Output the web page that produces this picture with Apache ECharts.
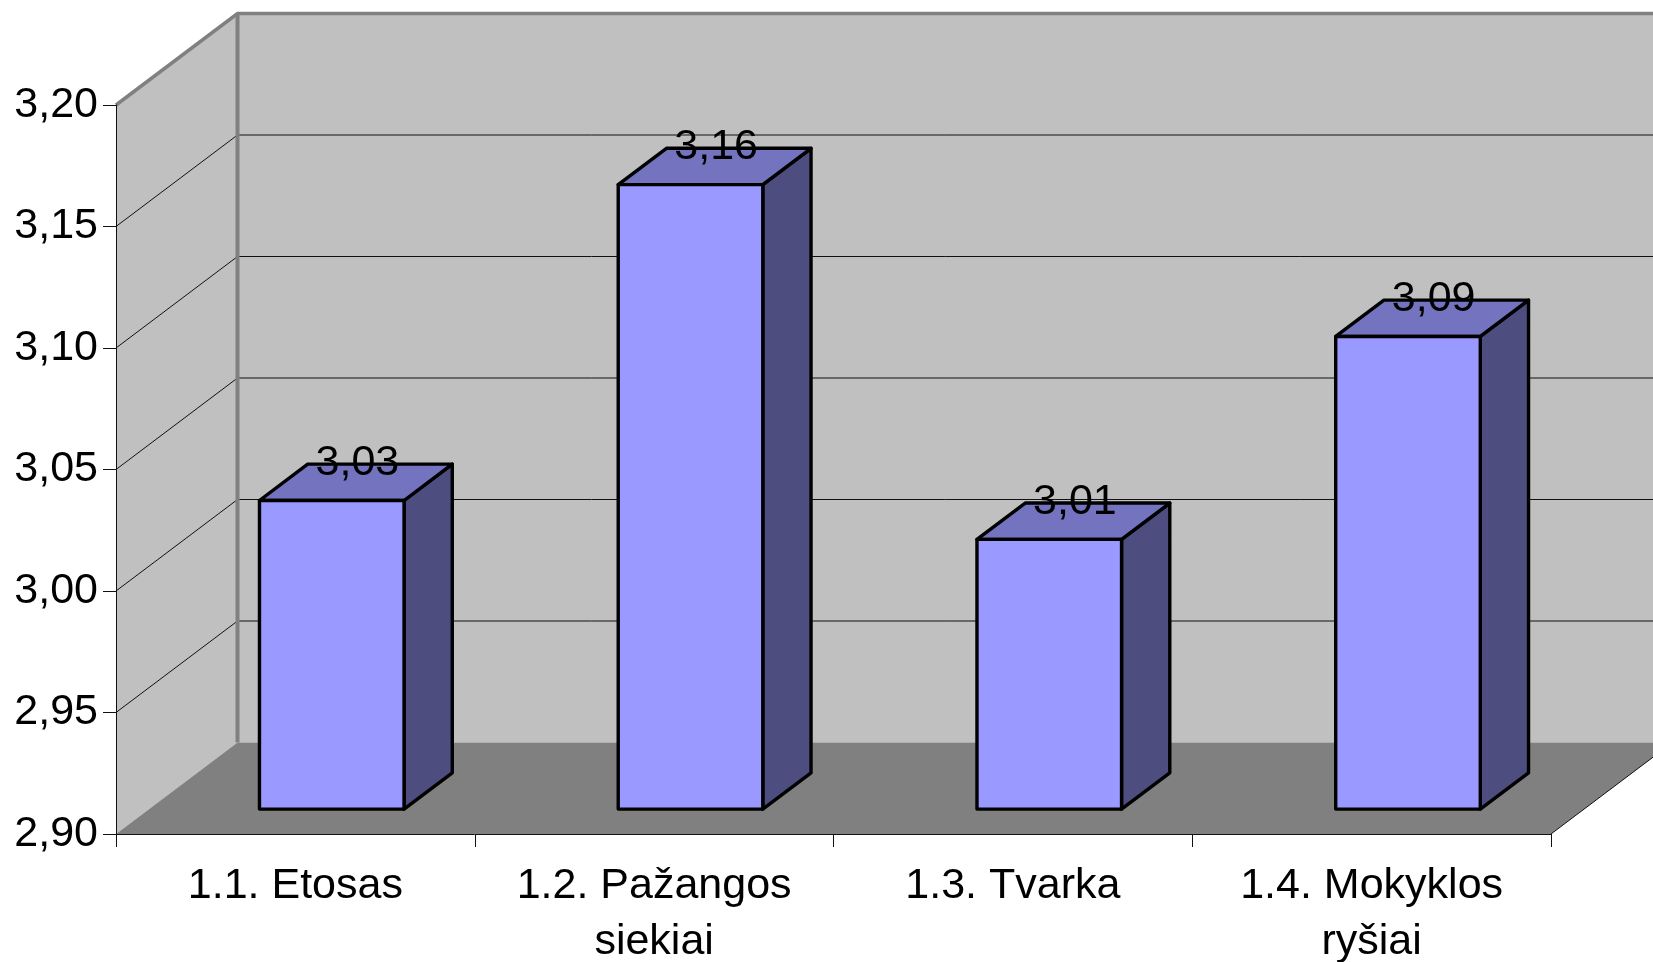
<!DOCTYPE html>
<html><head><meta charset="utf-8">
<style>html,body{margin:0;padding:0;background:#fff}#c{width:1653px;height:962px}</style>
<script src="https://cdn.jsdelivr.net/npm/echarts@6/dist/echarts.min.js"></script>
</head><body><div id="c"></div>
<script>
const categories = ['1.1. Etosas', '1.2. Pažangos\nsiekiai', '1.3. Tvarka', '1.4. Mokyklos\nryšiai'];
const values = [3.027, 3.157, 3.011, 3.0945];
const yTicks = [2.95, 3.00, 3.05, 3.10, 3.15, 3.20];
const yMin = 2.9, yMax = 3.2, yStep = 0.05;

const DEPTH = [121.5, -91.5];    // floor depth, screen vector
const BAR_FRONT = 0.283;         // where a bar's front face sits within the depth
const BAR_BACK = 0.68;           // where a bar's back face sits within the depth
const BAR_FRACTION = 0.403;
const BAR_NUDGE = [2, 1];
const FONT = '"Liberation Sans", Arial, sans-serif';
const comma = v => v.toFixed(2).replace('.', ',');
const shift = (p, k) => [p[0] + DEPTH[0] * k, p[1] + DEPTH[1] * k];
const poly = (points, style, z2) => ({type: 'polygon', z2: z2 || 0, shape: {points}, style});

function renderWalls(params, api) {
  const cs = params.coordSys;
  const left = cs.x, right = cs.x + cs.width;
  const yOf = v => api.coord([0, v])[1];
  const children = [];
  const fl = [left, yOf(yMin)], fr = [right, yOf(yMin)];
  const tl = [left, yOf(yMax)], tr = [right, yOf(yMax)];
  children.push(poly([tl, shift(tl, 1), shift(fl, 1), fl], {fill: '#c0c0c0'}));
  children.push(poly([shift(tl, 1), shift(tr, 1), shift(fr, 1), shift(fl, 1)], {fill: '#c0c0c0'}));
  children.push(poly([fl, fr, shift(fr, 1), shift(fl, 1)], {fill: '#808080'}));
  yTicks.slice(0, -1).forEach(v => {
    const p = [left, yOf(v)], q = shift(p, 1), r = [right + DEPTH[0], q[1]];
    children.push({type: 'polyline', shape: {points: [p, q, r]}, style: {stroke: '#111', lineWidth: 1, fill: null}});
  });
  children.push({type: 'polyline', shape: {points: [tl, shift(tl, 1), shift(tr, 1)]}, style: {stroke: '#808080', lineWidth: 3.5, fill: null}});
  children.push({type: 'polyline', shape: {points: [shift(tl, 1), shift(fl, 1)]}, style: {stroke: '#808080', lineWidth: 4, fill: null}});
  children.push({type: 'polyline', shape: {points: [fr, shift(fr, 1)]}, style: {stroke: '#111', lineWidth: 1, fill: null}});
  return {type: 'group', children};
}

function renderBar(params, api) {
  const cat = api.value(0), val = api.value(1);
  const w = api.size([1, 0])[0] * BAR_FRACTION;
  const topC = api.coord([cat, val]), baseC = api.coord([cat, yMin]);
  const at = (x, y) => { const p = shift([x, y], BAR_FRONT); return [p[0] + BAR_NUDGE[0], p[1] + BAR_NUDGE[1]]; };
  const a = at(topC[0] - w / 2, topC[1]);
  const b = at(topC[0] + w / 2, topC[1]);
  const c = at(baseC[0] + w / 2, baseC[1]);
  const d = at(baseC[0] - w / 2, baseC[1]);
  const k = BAR_BACK - BAR_FRONT;
  const stroke = {stroke: '#000', lineWidth: 3.4, lineJoin: 'round'};
  return {type: 'group', children: [
    poly([b, shift(b, k), shift(c, k), c], Object.assign({fill: '#4d4d80'}, stroke)),
    poly([a, shift(a, k), shift(b, k), b], Object.assign({fill: '#7373bf'}, stroke)),
    poly([a, b, c, d], Object.assign({fill: '#9999ff'}, stroke)),
    {type: 'text', z2: 10, style: {
      x: (a[0] + b[0]) / 2 + DEPTH[0] * k / 2 + 1.5,
      y: a[1] + DEPTH[1] * k - 1,
      text: comma(val), fill: '#000', font: '43px ' + FONT, align: 'center', verticalAlign: 'middle'
    }}
  ]};
}

const chart = echarts.init(document.getElementById('c'), null, {renderer: 'canvas'});
chart.setOption({
  animation: false,
  backgroundColor: '#fff',
  grid: {left: 116, top: 105, width: 1435, height: 729, containLabel: false, outerBoundsMode: 'none'},
  xAxis: {
    type: 'category', data: categories, z: 2,
    axisLine: {show: true, lineStyle: {color: '#111', width: 1}},
    axisTick: {show: true, length: 13, alignWithLabel: false, lineStyle: {color: '#111', width: 1}},
    axisLabel: {interval: 0, margin: 24, fontFamily: FONT, fontSize: 43, lineHeight: 56, color: '#000', hideOverlap: false},
    splitLine: {show: false}
  },
  yAxis: {
    type: 'value', min: yMin, max: yMax, interval: yStep, z: 2,
    axisLine: {show: true, lineStyle: {color: '#111', width: 1}},
    axisTick: {show: true, length: 13, lineStyle: {color: '#111', width: 1}},
    axisLabel: {margin: 18, fontFamily: FONT, fontSize: 43, color: '#000', formatter: v => comma(v)},
    splitLine: {show: false}
  },
  series: [
    {type: 'custom', z: 1, silent: true, clip: false, data: [[0, yMin]], renderItem: renderWalls},
    {type: 'custom', z: 3, clip: false, data: values.map((v, i) => [i, v]), renderItem: renderBar}
  ]
});
</script></body></html>
